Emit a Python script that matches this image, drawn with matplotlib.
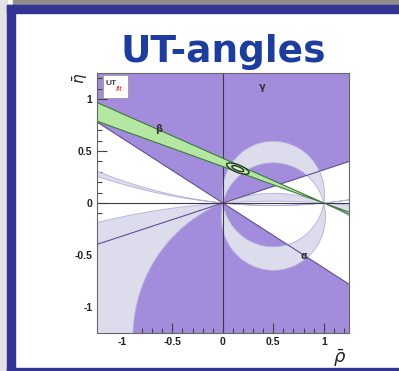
import numpy as np
import matplotlib
matplotlib.use("Agg")
import matplotlib.pyplot as plt
from matplotlib.patches import Polygon, Ellipse, Rectangle

# ---- constraint values (rho-bar / eta-bar plane) ----
# gamma: wedge edges through the origin, in degrees
gamma_edges_deg = [17.7, 148.0]
# beta: band edges through (1, 0), as slopes |d eta / d rho|
beta_slopes = [0.43, 0.35]
# alpha: pairs of circles through (0,0) and (1,0), given by centre height k
alpha_circle_pairs = [(0.087, -0.131), (-1.298, -7.557), (5.58, 4.73)]
# combined fit: ellipse centre, full widths and tilt
fit_center = (0.148, 0.331)
fit_outer = (0.236, 0.072)
fit_inner = (0.125, 0.038)
fit_angle = -21.0

x_ticks = [-1, -0.5, 0, 0.5, 1]
y_ticks = [-1, -0.5, 0, 0.5, 1]
x_tick_labels = ["-1", "-0.5", "0", "0.5", "1"]
y_tick_labels = ["-1", "-0.5", "0", "0.5", "1"]
lims = (-1.25, 1.25)

PURPLE = "#a48cdc"
LAVENDER = "#dcdced"
LAV_EDGE = "#b4aedb"
GREEN = "#b4e8a2"
GREEN_EDGE = "#3d7a3a"
DARK_PURPLE = "#5e4f90"
BLUE = "#343497"

W, H = 399, 371
fig = plt.figure(figsize=(W / 100, H / 100), dpi=100)
fig.patch.set_facecolor("white")

# slide frame
fig.patches.append(Rectangle((0, 0), 7.3 / W, 1, transform=fig.transFigure,
                             color="#e3e3e3", zorder=0))
fig.patches.append(Rectangle((13.3 / W, 1 - 4 / H), 1, 4 / H, transform=fig.transFigure,
                             color="#8c8c8c", zorder=0))
fig.patches.append(Rectangle((7.3 / W, 0), 7.7 / W, 1 - 5 / H, transform=fig.transFigure,
                             color=BLUE, zorder=1))
fig.patches.append(Rectangle((7.3 / W, 1 - 13.3 / H), 1, 8.3 / H, transform=fig.transFigure,
                             color=BLUE, zorder=1))
fig.patches.append(Rectangle((7.3 / W, 0), 1, 3 / H, transform=fig.transFigure,
                             color=BLUE, zorder=1))

fig.text(223 / W, 1 - 62 / H, "UT-angles", ha="center", va="baseline",
         fontsize=27, fontweight="bold", color="#1c3c9e", family="DejaVu Sans")

ax = fig.add_axes([96.7 / W, 1 - 333 / H, (349 - 96.7) / W, (333 - 73) / H])
ax.set_xlim(*lims)
ax.set_ylim(*lims)
ax.set_facecolor("white")

# gamma double wedge
R = 10.0
g1, g2 = np.radians(gamma_edges_deg)
for off in (0.0, np.pi):
    th = np.linspace(g1 + off, g2 + off, 200)
    pts = np.vstack([[0, 0], np.column_stack([R * np.cos(th), R * np.sin(th)])])
    ax.add_patch(Polygon(pts, closed=True, facecolor=PURPLE, edgecolor="none", zorder=1))


def arc(k, upper, n=6000):
    r = np.hypot(0.5, k)
    t1 = np.arctan2(-k, 0.5)
    if upper:
        th = np.linspace(t1, np.pi - t1, n)
    else:
        th = np.linspace(np.pi - t1, 2 * np.pi + t1, n)
    return np.column_stack([0.5 + r * np.cos(th), k + r * np.sin(th)])


# alpha regions: symmetric difference of each pair of discs
for ka, kb in alpha_circle_pairs:
    hi, lo = max(ka, kb), min(ka, kb)
    up = np.vstack([arc(hi, True), arc(lo, True)[::-1]])
    dn = np.vstack([arc(lo, False), arc(hi, False)[::-1]])
    for pts in (up, dn):
        ax.add_patch(Polygon(pts, closed=True, facecolor=LAVENDER,
                             edgecolor=LAV_EDGE, linewidth=0.6, zorder=2))

# gamma edges
for g in (g1, g2):
    ax.plot([-R * np.cos(g), R * np.cos(g)], [-R * np.sin(g), R * np.sin(g)],
            color=DARK_PURPLE, linewidth=0.8, zorder=3)

# axes through the origin
ax.axhline(0, color="#3a3a4a", linewidth=0.8, zorder=3.5)
ax.axvline(0, color="#3a3a4a", linewidth=0.8, zorder=3.5)

# beta band (double wedge through (1, 0))
T = 10.0
left = [(1, 0)] + [(1 - T, s * T) for s in beta_slopes]
right = [(1, 0)] + [(1 + T, -s * T) for s in beta_slopes]
for pts in (left, right):
    ax.add_patch(Polygon(pts, closed=True, facecolor=GREEN, edgecolor=GREEN_EDGE,
                         linewidth=0.8, zorder=4))

# combined fit contours
ax.add_patch(Ellipse(fit_center, fit_outer[0], fit_outer[1], angle=fit_angle,
                     facecolor="#c6e8b4", edgecolor="#1d3a1d", linewidth=1.0, zorder=5))
ax.add_patch(Ellipse(fit_center, fit_inner[0], fit_inner[1], angle=fit_angle,
                     facecolor="#e4f4d8", edgecolor="#1d3a1d", linewidth=1.0, zorder=5))

# constraint names
for txt, (x, y) in [("γ", (0.39, 1.12)), ("β", (-0.636, 0.71)), ("α", (0.80, -0.51))]:
    ax.text(x, y, txt, fontsize=7, color="#333333", ha="center", va="center",
            fontweight="bold", zorder=6)

# UTfit logo
ax.add_patch(Rectangle((-1.185, 1.01), 0.25, 0.22, facecolor="white",
                       edgecolor="#999999", linewidth=0.6, zorder=6))
ax.text(-1.165, 1.15, "UT", fontsize=6, fontweight="bold", color="#3a3a5a",
        ha="left", va="center", zorder=7, family="Liberation Sans")
ax.text(-1.065, 1.09, "fit", fontsize=6, style="italic", color="#d03030",
        ha="left", va="center", zorder=7, family="Liberation Sans")

# ticks and frame
ax.set_xticks(x_ticks)
ax.set_xticklabels(x_tick_labels)
ax.set_yticks(y_ticks)
ax.set_yticklabels(y_tick_labels)
ax.set_xticks(np.arange(-1.2, 1.25, 0.1), minor=True)
ax.set_yticks(np.arange(-1.2, 1.25, 0.1), minor=True)
ax.tick_params(which="both", direction="in", top=False, right=False,
               color="#444444", width=0.8, zorder=8)
ax.tick_params(which="major", length=7, pad=3)
ax.tick_params(which="minor", length=3.5)
for lab in ax.get_xticklabels() + ax.get_yticklabels():
    lab.set_fontsize(7.5)
    lab.set_fontweight("bold")
    lab.set_family("Liberation Sans")
    lab.set_color("#222222")
for sp in ax.spines.values():
    sp.set_color("#666666")
    sp.set_linewidth(0.8)
    sp.set_zorder(9)

fig.text(80 / W, 1 - 78 / H, r"$\bar{\eta}$", rotation=90, fontsize=11,
         ha="center", va="center", color="#222222")
fig.text(340 / W, 1 - 358 / H, r"$\bar{\rho}$", fontsize=13,
         ha="center", va="center", color="#222222")

fig.savefig("out.png", dpi=100)
